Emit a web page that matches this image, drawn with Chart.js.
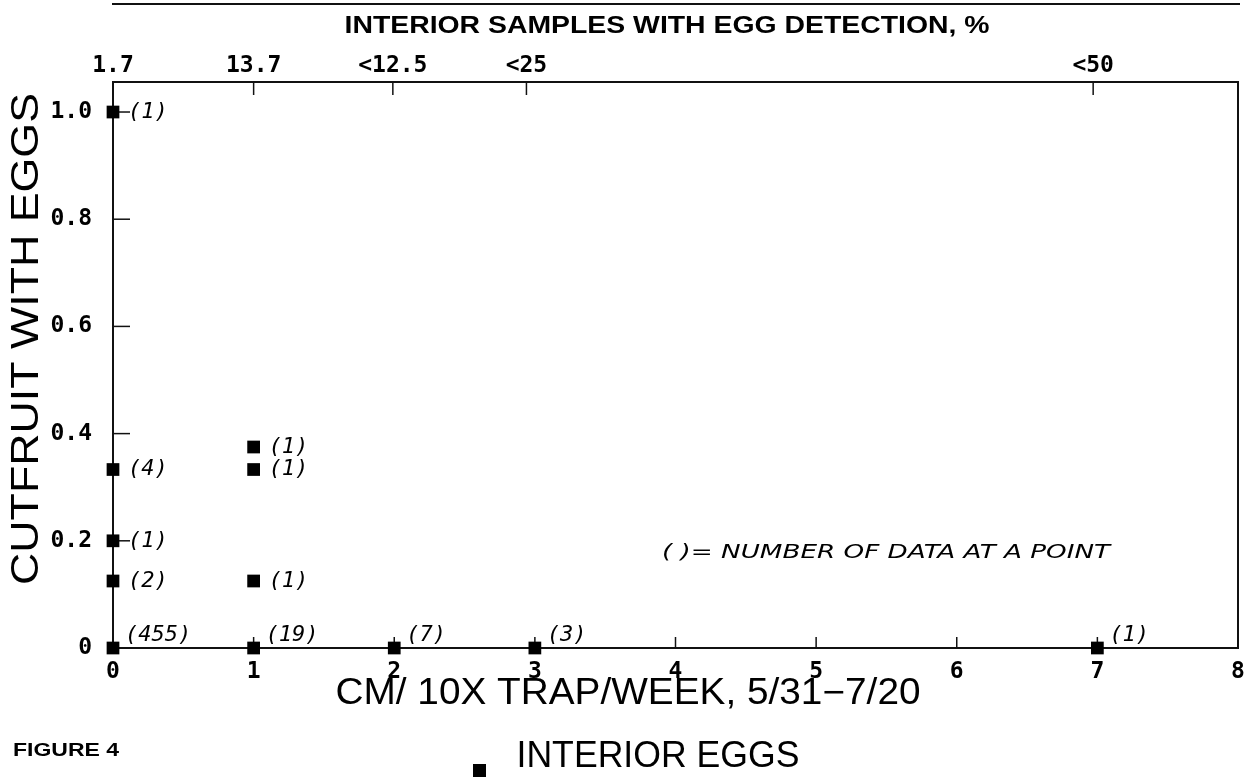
<!DOCTYPE html>
<html>
<head>
<meta charset="utf-8">
<script src="https://cdn.jsdelivr.net/npm/chart.js@4.4.0/dist/chart.umd.min.js"></script>
<style>
  html, body { margin: 0; padding: 0; background: #fff; }
</style>
</head>
<body>
<canvas id="chart" width="1249" height="781"></canvas>
<script>
// values
const trapCatch = [0, 0, 0, 0, 0, 1, 1, 1, 1, 2, 3, 7];
const fruitWithEggs = [1.0, 0.333, 0.2, 0.125, 0, 0.375, 0.333, 0.125, 0, 0, 0, 0];
const dataCounts = [1, 4, 1, 2, 455, 1, 1, 1, 19, 7, 3, 1];

const xTicks = [0, 1, 2, 3, 4, 5, 6, 7, 8];
const yTicks = [0, 0.2, 0.4, 0.6, 0.8, 1.0];
const yTickLabels = ['0', '0.2', '0.4', '0.6', '0.8', '1.0'];
const topTickPos = [0, 1, 1.99, 2.94, 6.97];
const topTickLabels = ['1.7', '13.7', '<12.5', '<25', '<50'];

const INK = '#111';
const tickFont = { family: 'DejaVu Sans Mono', size: 23, weight: 'bold' };

// draw text stretched to a given width
function fitText(ctx, text, cx, cy, w) {
  const m = ctx.measureText(text).width;
  ctx.save();
  ctx.translate(cx, cy);
  ctx.scale(w / m, 1);
  ctx.fillText(text, 0, 0);
  ctx.restore();
}

function line(ctx, x1, y1, x2, y2) {
  ctx.beginPath();
  ctx.moveTo(x1, y1);
  ctx.lineTo(x2, y2);
  ctx.stroke();
}

const frame = {
  id: 'frame',
  beforeDatasetsDraw(chart) {
    const { ctx, chartArea: a, scales } = chart;
    ctx.save();
    ctx.strokeStyle = INK;
    ctx.lineWidth = 2;
    ctx.strokeRect(a.left, a.top, a.right - a.left, a.bottom - a.top);
    ctx.lineWidth = 1.5;
    yTicks.forEach(v => {
      const y = scales.y.getPixelForValue(v);
      line(ctx, a.left, y, a.left + 17, y);
    });
    xTicks.forEach(v => {
      const x = scales.x.getPixelForValue(v);
      line(ctx, x, a.bottom, x, a.bottom - 11);
    });
    topTickPos.forEach(v => {
      const x = scales.x2.getPixelForValue(v);
      line(ctx, x, a.top, x, a.top + 13);
    });
    ctx.restore();
  },
  afterDatasetsDraw(chart) {
    const { ctx, chartArea: a } = chart;
    const pts = chart.getDatasetMeta(0).data;
    ctx.save();
    ctx.fillStyle = '#000';
    ctx.font = 'italic 22px "DejaVu Sans Mono"';
    ctx.textAlign = 'left';
    ctx.textBaseline = 'middle';
    pts.forEach((p, i) => {
      const txt = '(' + dataCounts[i] + ')';
      if (fruitWithEggs[i] === 0) {
        ctx.fillText(txt, p.x + 12, a.bottom - 13);
      } else {
        ctx.fillText(txt, p.x + 15, p.y);
      }
    });
    ctx.restore();
  },
  afterDraw(chart) {
    const { ctx, chartArea: a } = chart;
    ctx.save();
    ctx.fillStyle = '#000';
    ctx.strokeStyle = INK;
    ctx.textAlign = 'center';
    ctx.textBaseline = 'middle';

    // rule above the top axis title
    ctx.lineWidth = 2;
    line(ctx, a.left - 1, 4, a.right + 2, 4);

    ctx.font = 'bold 24px "Liberation Sans"';
    fitText(ctx, 'INTERIOR SAMPLES WITH EGG DETECTION, %', 667, 26, 645);

    ctx.font = '36px "Liberation Sans"';
    fitText(ctx, 'CM/ 10X TRAP/WEEK, 5/31\u22127/20', 628, 694, 585);

    ctx.save();
    ctx.translate(28, 339);
    ctx.rotate(-Math.PI / 2);
    ctx.font = '38px "Liberation Sans"';
    fitText(ctx, 'CUTFRUIT WITH EGGS', 0, 0, 492);
    ctx.restore();

    ctx.font = 'italic 20px "DejaVu Sans"';
    fitText(ctx, '( )= NUMBER OF DATA AT A POINT', 886, 553, 448);

    ctx.font = 'bold 19px "Liberation Sans"';
    fitText(ctx, 'FIGURE 4', 66, 751, 106);

    ctx.font = '36px "Liberation Sans"';
    fitText(ctx, 'INTERIOR EGGS', 658, 757, 283);
    ctx.fillRect(473, 764, 13, 13);
    ctx.restore();
  }
};

new Chart(document.getElementById('chart'), {
  type: 'scatter',
  data: {
    datasets: [{
      data: trapCatch.map((x, i) => ({ x: x, y: fruitWithEggs[i] })),
      pointStyle: 'rect',
      pointRadius: 9,
      pointHoverRadius: 9,
      backgroundColor: '#000',
      borderColor: '#000',
      borderWidth: 0,
      clip: false,
    }],
  },
  options: {
    responsive: false,
    animation: false,
    devicePixelRatio: 1,
    layout: { padding: { left: 0, right: 11, top: 0, bottom: 0 } },
    scales: {
      x: {
        type: 'linear',
        position: 'bottom',
        min: 0,
        max: 8,
        afterFit: s => { s.height = 133; },
        afterBuildTicks: s => { s.ticks = xTicks.map(v => ({ value: v })); },
        grid: { display: false },
        border: { display: false },
        ticks: { font: tickFont, color: '#000', padding: 2, maxRotation: 0, autoSkip: false },
      },
      x2: {
        type: 'linear',
        axis: 'x',
        position: 'top',
        min: 0,
        max: 8,
        afterFit: s => { s.height = 82; },
        afterBuildTicks: s => { s.ticks = topTickPos.map(v => ({ value: v })); },
        grid: { display: false },
        border: { display: false },
        ticks: {
          font: tickFont, color: '#000', padding: -6, maxRotation: 0, autoSkip: false,
          callback: (v, i) => topTickLabels[i],
        },
      },
      y: {
        min: 0,
        max: 1.056,
        afterFit: s => { s.width = 113; },
        afterBuildTicks: s => { s.ticks = yTicks.map(v => ({ value: v })); },
        grid: { display: false },
        border: { display: false },
        ticks: {
          font: tickFont, color: '#000', padding: 13, autoSkip: false,
          callback: (v, i) => yTickLabels[i],
        },
      },
    },
    plugins: {
      legend: { display: false },
      tooltip: { enabled: false },
    },
  },
  plugins: [frame],
});
</script>
</body>
</html>
